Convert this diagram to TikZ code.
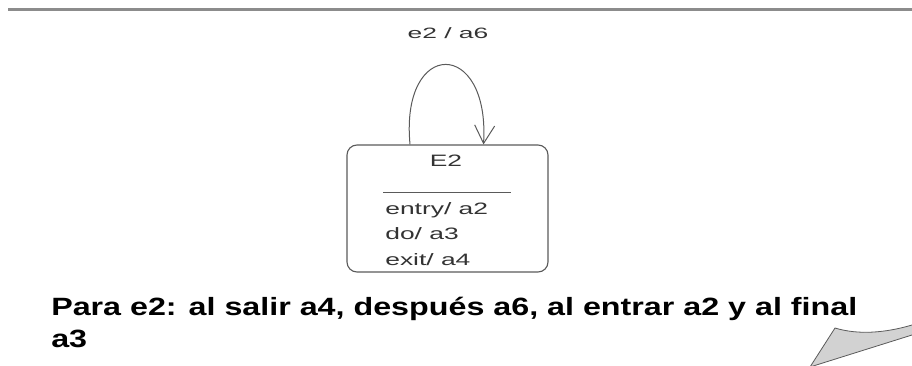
\documentclass[tikz,border=0pt]{standalone}
\usepackage{fontspec}
\setmainfont{Liberation Sans}
\usetikzlibrary{arrows.meta}

\definecolor{linegray}{HTML}{5A5A5A}
\definecolor{rulegray}{HTML}{8C8C8C}
\definecolor{notefill}{HTML}{D2D2D2}

\tikzset{
    statebox/.style={draw=linegray, line width=1.1pt, rounded corners=10pt,
        minimum width=201pt, minimum height=127pt, inner sep=0pt},
    umltext/.style={text=black!80, inner sep=0pt,
        font=\fontsize{16.5}{20}\selectfont, xscale=1.6},
    looparrow/.style={draw=linegray, line width=1pt,
        -{Straight Barb[length=18pt,width=20pt,line width=1pt]}},
    notetext/.style={inner sep=0pt, align=left,
        font=\fontsize{25}{32}\selectfont\bfseries, xscale=1.29}
}

\begin{document}
\begin{tikzpicture}[x=1pt,y=-1pt] % one unit = one pixel, y runs downwards

        \useasboundingbox (0,0) rectangle (912,366);

        % rule along the top
        \draw[rulegray, line width=3pt] (8,10) -- (912,10);

        % state E2 with its internal actions
        \node[statebox] (e2state) at (447.5,208.5) {};
        \node[umltext, anchor=base] (e2name) at (446,167) {E2};
        \draw[linegray, line width=1pt] (383,192) -- (511,192);
        \node[umltext, anchor=base west] (entry) at (385,214) {entry/ a2};
        \node[umltext, anchor=base west] (doact) at (385,239) {do/ a3};
        \node[umltext, anchor=base west] (exitact) at (385,265) {exit/ a4};

        % self transition on e2
        \coordinate (loopout) at ([xshift=-37.5pt]e2state.north);
        \coordinate (loopin) at ([xshift=36pt]e2state.north);
        \draw[looparrow] (loopout) .. controls (400,38) and (490,38) .. (loopin);
        \node[umltext, anchor=base, font=\fontsize{15}{18}\selectfont, xscale=1.1]
            (looplbl) at (448,39) {e2 / a6};

        % explanation below (base sits on the last line)
        \node[notetext, anchor=base west] (nota) at (51,347)
            {Para e2: al salir a4, después a6, al entrar a2 y al final\\a3};

        % corner of a shape running off the page
        \fill[notefill] (810,367) -- (835,328) .. controls (858,335) and (885,333) .. (912,325)
            -- (912,335) -- cycle;
        \draw[linegray, line width=0.8pt]
            (912,335) -- (810,367) -- (835,328) .. controls (858,335) and (885,333) .. (912,325);

    \end{tikzpicture}
\end{document}
